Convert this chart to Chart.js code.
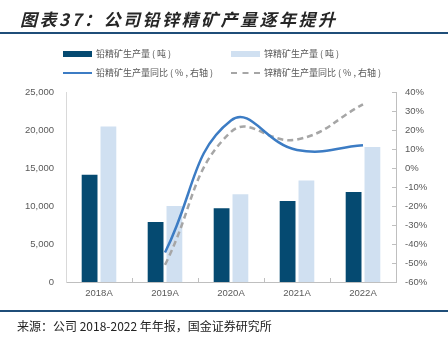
<!DOCTYPE html>
<html>
<head>
<meta charset="utf-8">
<script src="https://cdn.jsdelivr.net/npm/chart.js@4.4.0/dist/chart.umd.min.js"></script>
<style>
  html, body { margin: 0; padding: 0; background: #fff; }
  #wrap { position: relative; width: 448px; height: 341px; overflow: hidden; font-family: "Noto Sans CJK SC", sans-serif; }
  #chart { position: absolute; left: 0; top: 0; }
  .title { position: absolute; left: 20px; top: 6px; font-size: 17px; font-weight: bold; font-style: italic; color: #262626; letter-spacing: 2.5px; white-space: nowrap; }
  .rule { position: absolute; left: 0; width: 448px; height: 2px; background: #1F4E79; }
  .leg { position: absolute; font-size: 9px; color: #595959; white-space: pre; line-height: 12px; }
  .sw { position: absolute; width: 29px; }
  .src { position: absolute; left: 17px; top: 317px; font-size: 12px; color: #222; white-space: nowrap; }
</style>
</head>
<body>
<div id="wrap">
  <canvas id="chart" width="448" height="341"></canvas>
  <div class="title">图表37：公司铅锌精矿产量逐年提升</div>
  <div class="rule" style="top:32px"></div>

  <div class="sw" style="left:63px; top:51px; height:6px; background:#054A71"></div>
  <div class="leg" style="left:96px; top:48px">铅精矿生产量 ( 吨 )</div>
  <div class="sw" style="left:231px; top:51px; height:6px; background:#D0E0F1"></div>
  <div class="leg" style="left:264px; top:48px">锌精矿生产量 ( 吨 )</div>
  <div class="sw" style="left:63px; top:72px; height:0; border-top:2px solid #3C7CC4"></div>
  <div class="leg" style="left:96px; top:67px">铅精矿生产量同比 ( % , 右轴 )</div>
  <div class="sw" style="left:231px; top:72px; height:0; border-top:2px dashed #A6A6A6"></div>
  <div class="leg" style="left:264px; top:67px">锌精矿生产量同比 ( % , 右轴 )</div>

  <div class="rule" style="top:310px"></div>
  <div class="src">来源：公司 2018-2022 年年报，国金证券研究所</div>
</div>
<script>
// categories and values
const years = ['2018A', '2019A', '2020A', '2021A', '2022A'];
const leadOutput = [14100, 7900, 9700, 10650, 11850];   // 吨
const zincOutput = [20450, 10000, 11550, 13350, 17750]; // 吨
const leadYoY = [null, -44.5, 25, 9.5, 12];             // %
const zincYoY = [null, -51, 19, 15, 33.5];              // %

Chart.defaults.font.family = '"Liberation Sans", Arial, sans-serif';
Chart.defaults.font.size = 9.5;
Chart.defaults.color = '#595959';

// small inward tick marks on the x axis and the right axis
const innerTicks = {
    id: 'innerTicks',
    afterDraw(chart) {
        const ctx = chart.ctx;
        const x = chart.scales.x, y1 = chart.scales.y1;
        ctx.save();
        ctx.strokeStyle = '#BFBFBF';
        ctx.lineWidth = 1;
        ctx.beginPath();
        for (let i = 1; i < years.length; i++) {
            const px = Math.round((x.getPixelForValue(i - 1) + x.getPixelForValue(i)) / 2) + 0.5;
            ctx.moveTo(px, x.top);
            ctx.lineTo(px, x.top - 4);
        }
        y1.ticks.forEach(t => {
            const py = Math.round(y1.getPixelForValue(t.value)) + 0.5;
            ctx.moveTo(y1.left, py);
            ctx.lineTo(y1.left - 4, py);
        });
        ctx.stroke();
        ctx.restore();
    }
};

new Chart(document.getElementById('chart'), {
    type: 'bar',
    data: {
        labels: years,
        datasets: [
            {
                type: 'line',
                label: '铅精矿生产量同比（%，右轴）',
                data: leadYoY,
                yAxisID: 'y1',
                borderColor: '#3C7CC4',
                borderWidth: 2.5,
                pointRadius: 0,
                tension: 0.45,
                fill: false,
                order: 0
            },
            {
                type: 'line',
                label: '锌精矿生产量同比（%，右轴）',
                data: zincYoY,
                yAxisID: 'y1',
                borderColor: '#A6A6A6',
                borderWidth: 2.5,
                borderDash: [6, 4],
                pointRadius: 0,
                tension: 0.45,
                fill: false,
                order: 1
            },
            {
                label: '铅精矿生产量（吨）',
                data: leadOutput,
                backgroundColor: '#054A71',
                yAxisID: 'y',
                categoryPercentage: 0.57,
                barPercentage: 0.84,
                order: 2
            },
            {
                label: '锌精矿生产量（吨）',
                data: zincOutput,
                backgroundColor: '#D0E0F1',
                yAxisID: 'y',
                categoryPercentage: 0.57,
                barPercentage: 0.84,
                order: 3
            }
        ]
    },
    options: {
        responsive: false,
        animation: false,
        layout: { padding: { top: 92, bottom: 39, left: 0, right: 0 } },
        plugins: {
            legend: { display: false },
            tooltip: { enabled: false }
        },
        scales: {
            x: {
                grid: { display: false, drawTicks: false },
                border: { display: true, color: '#BFBFBF' },
                ticks: { padding: 6 },
                afterFit: s => { s.height = 20; }
            },
            y: {
                position: 'left',
                min: 0,
                max: 25000,
                ticks: {
                    stepSize: 5000,
                    padding: 12,
                    callback: v => v.toLocaleString('en-US')
                },
                grid: { display: false, drawTicks: false },
                border: { display: true, color: '#D9D9D9' },
                afterFit: s => { s.width = 66; }
            },
            y1: {
                position: 'right',
                min: -60,
                max: 40,
                ticks: {
                    stepSize: 10,
                    padding: 9,
                    callback: v => v + '%'
                },
                grid: { display: false, drawTicks: false },
                border: { display: true, color: '#BFBFBF' },
                afterFit: s => { s.width = 52; }
            }
        }
    },
    plugins: [innerTicks]
});
</script>
</body>
</html>
